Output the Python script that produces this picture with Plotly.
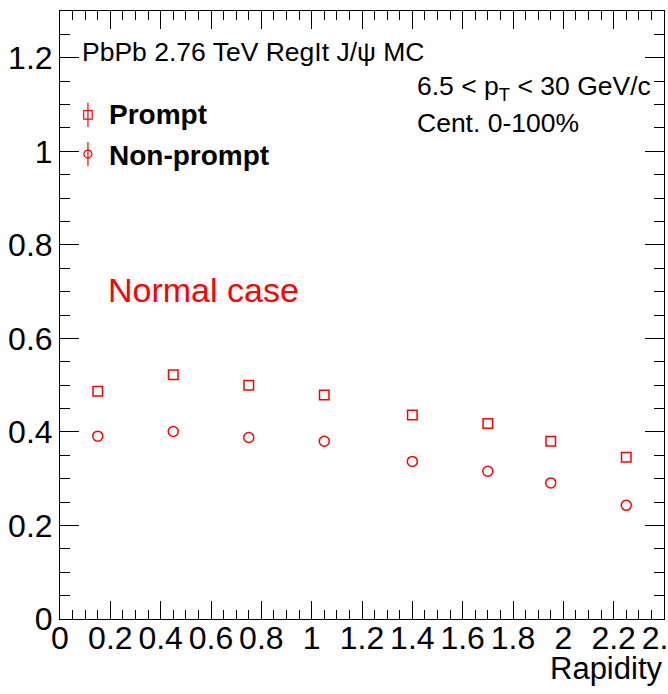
import plotly.graph_objects as go

# ---- data ----
rapidity = [0.15, 0.45, 0.75, 1.05, 1.4, 1.7, 1.95, 2.25]
prompt = [0.487, 0.522, 0.500, 0.479, 0.436, 0.418, 0.380, 0.346]
nonprompt = [0.391, 0.401, 0.388, 0.380, 0.337, 0.316, 0.291, 0.243]

x_tickvals = [0, 0.2, 0.4, 0.6, 0.8, 1.0, 1.2, 1.4, 1.6, 1.8, 2.0, 2.2, 2.4]
x_ticktext = ["0", "0.2", "0.4", "0.6", "0.8", "1", "1.2", "1.4", "1.6", "1.8", "2", "2.2", "2.4"]
y_tickvals = [0, 0.2, 0.4, 0.6, 0.8, 1.0, 1.2]
y_ticktext = ["0", "0.2", "0.4", "0.6", "0.8", "1", "1.2"]

RED = "#ff0000"
FONT = "Liberation Sans"

# legend glyph anchors (data coords of the custom legend)
leg_x = 0.111
leg_y_prompt = 1.078
leg_y_nonprompt = 0.994
leg_err = 0.026

fig = go.Figure()

fig.add_trace(go.Scatter(
    x=rapidity, y=prompt, mode="markers", name="Prompt",
    marker=dict(symbol="square-open", size=9.5, color=RED, line=dict(width=1.5, color=RED)),
    showlegend=False))
fig.add_trace(go.Scatter(
    x=rapidity, y=nonprompt, mode="markers", name="Non-prompt",
    marker=dict(symbol="circle-open", size=10, color=RED, line=dict(width=1.5, color=RED)),
    showlegend=False))

# custom legend glyphs (marker + vertical error line, ROOT style)
fig.add_trace(go.Scatter(
    x=[leg_x], y=[leg_y_prompt], mode="markers",
    marker=dict(symbol="square-open", size=8.5, color=RED, line=dict(width=1.2, color=RED)),
    error_y=dict(type="constant", value=leg_err, width=0, color=RED, thickness=1.2),
    showlegend=False, hoverinfo="skip"))
fig.add_trace(go.Scatter(
    x=[leg_x], y=[leg_y_nonprompt], mode="markers",
    marker=dict(symbol="circle-open", size=8, color=RED, line=dict(width=1.2, color=RED)),
    error_y=dict(type="constant", value=leg_err, width=0, color=RED, thickness=1.2),
    showlegend=False, hoverinfo="skip"))

def ann(text, x, y, size, color="black", xanchor="left", bold=False):
    if bold:
        text = "<b>" + text + "</b>"
    fig.add_annotation(text=text, x=x, y=y, xref="paper", yref="paper",
                       xanchor=xanchor, yanchor="middle", showarrow=False,
                       font=dict(family=FONT, size=size, color=color))

ann("PbPb 2.76 TeV RegIt J/ψ MC", 0.0331, 0.9326, 26.5)
ann("6.5 &lt; p<sub>T</sub> &lt; 30 GeV/c", 0.5875, 0.873, 26.5)
ann("Cent. 0-100%", 0.5875, 0.816, 26.5)
ann("Prompt", 0.0778, 0.829, 28, bold=True)
ann("Non-prompt", 0.0778, 0.763, 28, bold=True)
ann("Normal case", 0.0762, 0.541, 34, color=RED)
ann("Rapidity", 1.0, -0.082, 31, xanchor="right")

axis_common = dict(
    showline=True, linecolor="black", linewidth=1, mirror="allticks",
    ticks="inside", tickcolor="black", tickwidth=1,
    showgrid=False, zeroline=False, tickangle=0,
    ticklabeloverflow="allow", automargin=False,
    tickfont=dict(family=FONT, size=32, color="black"),
)

fig.update_xaxes(range=[0, 2.4], tickvals=x_tickvals, ticktext=x_ticktext, ticklen=18,
                 ticklabelstandoff=-9,
                 minor=dict(ticks="inside", ticklen=9, dtick=0.05, tickcolor="black", tickwidth=1, showgrid=False),
                 **axis_common)
fig.update_yaxes(range=[0, 1.3], tickvals=y_tickvals, ticktext=y_ticktext, ticklen=19,
                 minor=dict(ticks="inside", ticklen=10, dtick=0.05, tickcolor="black", tickwidth=1, showgrid=False),
                 **axis_common)

fig.update_layout(
    width=668, height=694,
    margin=dict(l=60, r=4, t=11, b=75),
    paper_bgcolor="white", plot_bgcolor="white",
    font=dict(family=FONT, color="black"),
    showlegend=False,
)

fig.write_html("out.html")
